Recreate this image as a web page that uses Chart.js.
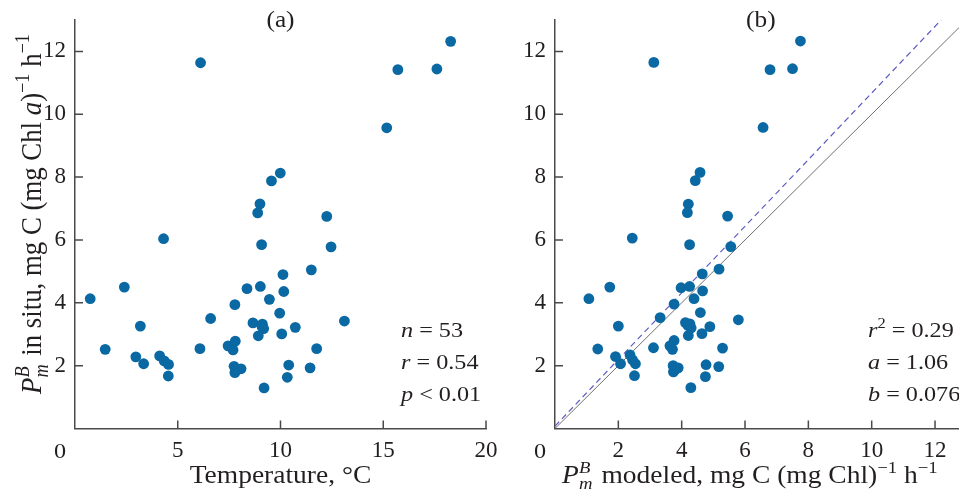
<!DOCTYPE html>
<html>
<head>
<meta charset="utf-8">
<script src="https://cdn.jsdelivr.net/npm/chart.js@4.4.1/dist/chart.umd.min.js"></script>
<style>
  html, body { margin: 0; padding: 0; background: #fff; overflow: hidden; }
  #wrap { position: relative; width: 959px; height: 495px; overflow: hidden; }
  #chartA { position: absolute; left: 0; top: 0; }
  #chartB { position: absolute; left: 480px; top: 0; }
</style>
</head>
<body>
<div id="wrap">
  <canvas id="chartA" width="500" height="495"></canvas>
  <canvas id="chartB" width="510" height="495"></canvas>
</div>
<script>
// (a) P_m^B in situ against temperature
const tempA = [0.74, 1.47, 2.40, 3.18, 2.96, 3.34, 4.12, 4.34, 4.55, 4.54,
  4.31, 6.11, 6.08, 6.60, 7.45, 7.69, 7.80, 7.78, 7.74, 7.78,
  8.08, 8.37, 8.66, 9.02, 9.12, 9.18, 8.92, 9.20, 9.46, 9.96,
  10.06, 10.12, 10.16, 10.40, 10.33, 10.72, 9.56, 9.99, 9.00, 8.89,
  9.08, 12.25, 12.46, 11.50, 13.11, 11.76, 11.44, 15.71, 17.61, 18.28,
  15.17, 9.10, 7.85];
const pmA = [4.13, 2.52, 4.50, 3.26, 2.28, 2.06, 2.31, 2.15, 2.04, 1.67,
  6.04, 11.64, 2.54, 3.50, 2.63, 2.50, 2.78, 3.94, 1.98, 1.78,
  1.90, 4.45, 3.36, 4.52, 3.32, 3.18, 2.95, 1.29, 4.11, 3.67,
  3.01, 4.90, 4.36, 2.02, 1.63, 3.22, 7.88, 8.13, 7.15, 6.86,
  5.85, 6.75, 5.78, 5.05, 3.42, 2.54, 1.93, 11.42, 11.44, 12.32,
  9.57, 3.25, 1.88];

// (b) P_m^B in situ against modeled P_m^B
const modeledB = [1.07, 1.73, 1.35, 2.00, 1.91, 2.07, 2.37, 2.45, 2.54, 2.51,
  3.11, 3.32, 3.63, 3.71, 3.76, 3.76, 3.73, 3.74, 3.89, 3.98,
  4.25, 4.12, 4.26, 4.30, 4.21, 4.29, 4.39, 4.59, 4.64, 4.65,
  4.66, 4.77, 4.75, 4.89, 5.18, 5.17, 5.29, 5.79, 4.58, 4.43,
  4.21, 4.18, 5.45, 2.44, 4.25, 5.55, 3.12, 7.75, 6.79, 7.50,
  6.57, 4.20, 3.80];
const pmB = [4.13, 4.50, 2.53, 3.26, 2.29, 2.06, 2.34, 2.18, 2.06, 1.68,
  2.57, 3.53, 2.63, 2.52, 2.80, 3.96, 2.00, 1.80, 1.93, 4.48,
  4.52, 3.37, 3.33, 3.20, 2.96, 1.30, 4.13, 3.69, 3.02, 4.92,
  4.38, 2.03, 1.65, 3.24, 5.07, 1.97, 2.56, 3.46, 8.15, 7.89,
  7.14, 6.87, 6.76, 6.06, 5.85, 5.79, 11.65, 12.33, 11.42, 11.45,
  9.58, 3.28, 1.88];

// regression in (b): y = a*x + b, and the 1:1 line
const fitA = 1.06;
const fitB = 0.076;

const yTicks = [2, 4, 6, 8, 10, 12];
const xTicksA = [5, 10, 15, 20];
const xTicksB = [2, 4, 6, 8, 10, 12];

const FONT = "'Liberation Serif', 'Times New Roman', serif";
const INK = '#231f20';
const AXIS = '#4a4a4a';
const DOT = '#0a68a3';
const STRETCH = 1.1; // the source lettering is a bit wider than Liberation Serif

function setFont(ctx, size, italic) {
  ctx.font = (italic ? 'italic ' : '') + size + 'px ' + FONT;
}

// lay out text with italics, sub- and superscripts
function layoutRich(ctx, segs, size) {
  const ops = [];
  let x = 0, stackX = null, stackW = 0;
  segs.forEach(s => {
    const fs = (s.sub || s.sup) ? size * 0.68 : size;
    setFont(ctx, fs, s.i);
    const w = ctx.measureText(s.t).width;
    const dy = s.sup ? -size * 0.42 : s.sub ? size * 0.24 : 0;
    if (s.stack) {
      stackX = x; stackW = w;
      ops.push({ t: s.t, fs, i: s.i, x, dy });
      return;
    }
    if (stackX !== null) {
      ops.push({ t: s.t, fs, i: s.i, x: stackX, dy });
      x = stackX + Math.max(w, stackW) + 2;
      stackX = null;
      return;
    }
    ops.push({ t: s.t, fs, i: s.i, x, dy });
    x += w;
  });
  return { ops, width: x };
}

function drawRich(ctx, segs, x, y, size, align, sx) {
  const l = layoutRich(ctx, segs, size);
  const x0 = align === 'center' ? x - l.width * sx / 2 : x;
  ctx.save();
  ctx.translate(x0, y);
  ctx.scale(sx, 1);
  ctx.textAlign = 'left';
  ctx.textBaseline = 'alphabetic';
  l.ops.forEach(o => {
    setFont(ctx, o.fs, o.i);
    ctx.fillText(o.t, o.x, o.dy);
  });
  ctx.restore();
}

const pmSymbol = [{ t: 'P', i: true }, { t: 'm', i: true, sub: true, stack: true }, { t: 'B', i: true, sup: true }];

function decor(cfg) {
  return {
    id: 'decor',
    afterDraw(chart) {
      const ctx = chart.ctx, xs = chart.scales.x, ys = chart.scales.y, a = chart.chartArea;
      ctx.save();
      // inward tick marks
      ctx.strokeStyle = AXIS;
      ctx.lineWidth = 1.5;
      ctx.beginPath();
      xs.ticks.forEach(t => {
        const px = xs.getPixelForValue(t.value);
        ctx.moveTo(px, a.bottom); ctx.lineTo(px, a.bottom - 8);
      });
      ys.ticks.forEach(t => {
        const py = ys.getPixelForValue(t.value);
        ctx.moveTo(a.left, py); ctx.lineTo(a.left + 8, py);
      });
      ctx.stroke();

      ctx.fillStyle = INK;
      // shared zero at the corner
      drawRich(ctx, [{ t: '0' }], xs.getPixelForValue(0) - 15, 458, 22, 'center', STRETCH);

      // panel label
      drawRich(ctx, [{ t: cfg.panel }], (a.left + a.right) / 2, 27, 23, 'center', STRETCH);

      // x title
      drawRich(ctx, cfg.xTitle, (a.left + a.right) / 2 + cfg.xTitleShift, 483, 25, 'center', STRETCH);

      // y title
      if (cfg.yTitle) {
        ctx.save();
        ctx.translate(41, 214);
        ctx.rotate(-Math.PI / 2);
        ctx.scale(1, STRETCH);
        drawRich(ctx, cfg.yTitle, 0, 0, 26.8, 'center', 1);
        ctx.restore();
      }

      // statistics
      cfg.stats.forEach((line, k) => {
        drawRich(ctx, line, cfg.statsX, 337 + k * 32, 22, 'left', STRETCH);
      });
      ctx.restore();
    }
  };
}

function scaleOpts(min, max, tickList, isY) {
  return {
    type: 'linear',
    min: min,
    max: max,
    afterBuildTicks: s => { s.ticks = tickList.map(v => ({ value: v })); },
    afterFit: s => {
      if (isY) s.width = 75; else s.height = 66.5;
      s.paddingLeft = s.paddingRight = s.paddingTop = s.paddingBottom = 0;
    },
    grid: { display: false, drawTicks: false },
    border: { display: true, color: AXIS, width: 1.5 },
    ticks: { font: { family: FONT, size: 23 }, color: INK, padding: 9 }
  };
}

function baseOptions(xMax, xTicks, rightPad) {
  return {
    responsive: false,
    animation: false,
    layout: { padding: { top: 20, right: rightPad, left: 0, bottom: 0 } },
    plugins: { legend: { display: false }, tooltip: { enabled: false } },
    scales: {
      x: scaleOpts(0, xMax, xTicks, false),
      y: scaleOpts(0, 13, yTicks, true)
    }
  };
}

const pointsA = tempA.map((t, i) => ({ x: t, y: pmA[i] }));
const pointsB = modeledB.map((m, i) => ({ x: m, y: pmB[i] }));

new Chart(document.getElementById('chartA'), {
  type: 'scatter',
  data: {
    datasets: [{
      data: pointsA,
      pointRadius: 5.4,
      pointBackgroundColor: DOT,
      pointBorderWidth: 0
    }]
  },
  options: baseOptions(20, xTicksA, 14),
  plugins: [decor({
    panel: '(a)',
    xTitle: [{ t: 'Temperature, °C' }],
    xTitleShift: 0,
    yTitle: pmSymbol.concat([{ t: ' in situ, mg C (mg Chl ' }, { t: 'a', i: true }, { t: ')' },
      { t: '−1', sup: true }, { t: ' h' }, { t: '−1', sup: true }]),
    statsX: 401,
    stats: [
      [{ t: 'n', i: true }, { t: ' = 53' }],
      [{ t: 'r', i: true }, { t: ' = 0.54' }],
      [{ t: 'p', i: true }, { t: ' < 0.01' }]
    ]
  })]
});

new Chart(document.getElementById('chartB'), {
  type: 'scatter',
  data: {
    datasets: [{
      data: pointsB,
      pointRadius: 5.4,
      pointBackgroundColor: DOT,
      pointBorderWidth: 0
    }, {
      data: [{ x: 0, y: fitB }, { x: (13 - fitB) / fitA, y: 13 }],
      showLine: true,
      pointRadius: 0,
      borderColor: '#5c5cc4',
      borderWidth: 1.2,
      borderDash: [6, 4]
    }, {
      data: [{ x: 0, y: 0 }, { x: 13, y: 13 }],
      showLine: true,
      pointRadius: 0,
      borderColor: '#707070',
      borderWidth: 1
    }]
  },
  options: baseOptions(13, xTicksB, 23.3),
  plugins: [decor({
    panel: '(b)',
    xTitle: pmSymbol.concat([{ t: ' modeled, mg C (mg Chl)' }, { t: '−1', sup: true }, { t: ' h' }, { t: '−1', sup: true }]),
    xTitleShift: -11,
    yTitle: null,
    statsX: 388,
    stats: [
      [{ t: 'r', i: true }, { t: '2', sup: true }, { t: ' = 0.29' }],
      [{ t: 'a', i: true }, { t: ' = 1.06' }],
      [{ t: 'b', i: true }, { t: ' = 0.076' }]
    ]
  })]
});
</script>
</body>
</html>
